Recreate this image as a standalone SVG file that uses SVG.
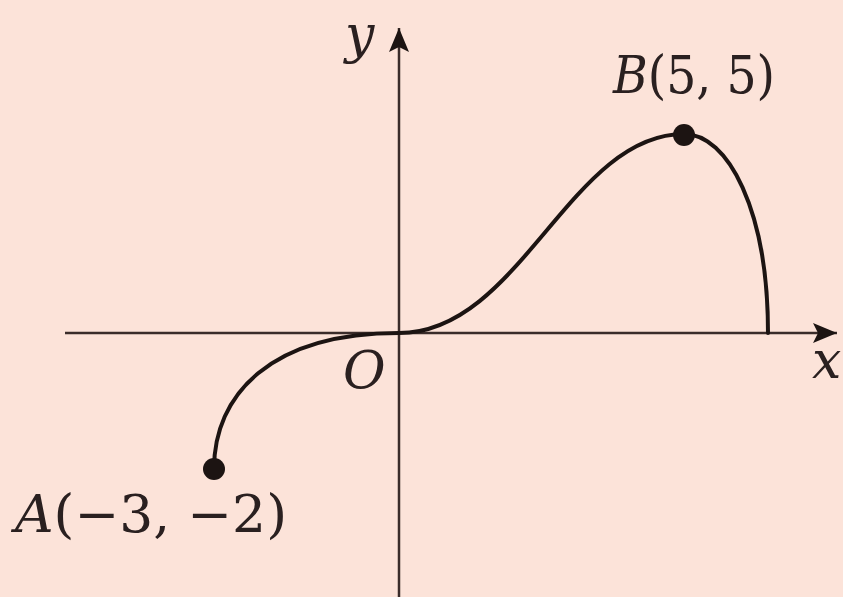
<svg xmlns="http://www.w3.org/2000/svg" width="843" height="597" viewBox="0 0 843 597">
<style>
.axis{stroke:#3a2c2a;stroke-width:2.5;fill:none}
.curve{stroke:#1c1412;stroke-width:4;fill:none;stroke-linecap:round}
.lbl{font-family:'DejaVu Serif',serif;font-size:52px;fill:#2a2020}
.it{font-style:italic}
.dot{fill:#1c1412}
</style>
<defs>
<marker id="arr" viewBox="0 0 24 20" refX="24" refY="10" markerWidth="24" markerHeight="20" markerUnits="userSpaceOnUse" orient="auto">
<path d="M0,0 L24,10 L0,20 L5,10 Z" fill="#1c1412"/>
</marker>
</defs>
<rect width="843" height="597" fill="#fce3d9"/>
<g id="axes">
<line class="axis" x1="65" y1="333" x2="837" y2="333" marker-end="url(#arr)"/>
<line class="axis" x1="399" y1="597" x2="399" y2="28" marker-end="url(#arr)"/>
</g>
<g id="connectors">
<path class="curve" d="M214,469 C214,395 270,333 399,333 C520,333 570,134 684,134 C728,134 768,210 768,333"/>
</g>
<g id="pointA">
<circle class="dot" cx="214" cy="469" r="11"/>
<text class="lbl" x="15" y="532" textLength="272" lengthAdjust="spacingAndGlyphs"><tspan class="it">A</tspan>(−3, −2)</text>
</g>
<g id="pointB">
<circle class="dot" cx="684" cy="135" r="11"/>
<text class="lbl" x="613" y="93" textLength="162" lengthAdjust="spacingAndGlyphs"><tspan class="it">B</tspan>(5, 5)</text>
</g>
<g id="labels">
<text class="lbl it" x="345" y="52">y</text>
<text class="lbl it" x="812" y="378">x</text>
<text class="lbl it" x="343" y="388">O</text>
</g>
</svg>
